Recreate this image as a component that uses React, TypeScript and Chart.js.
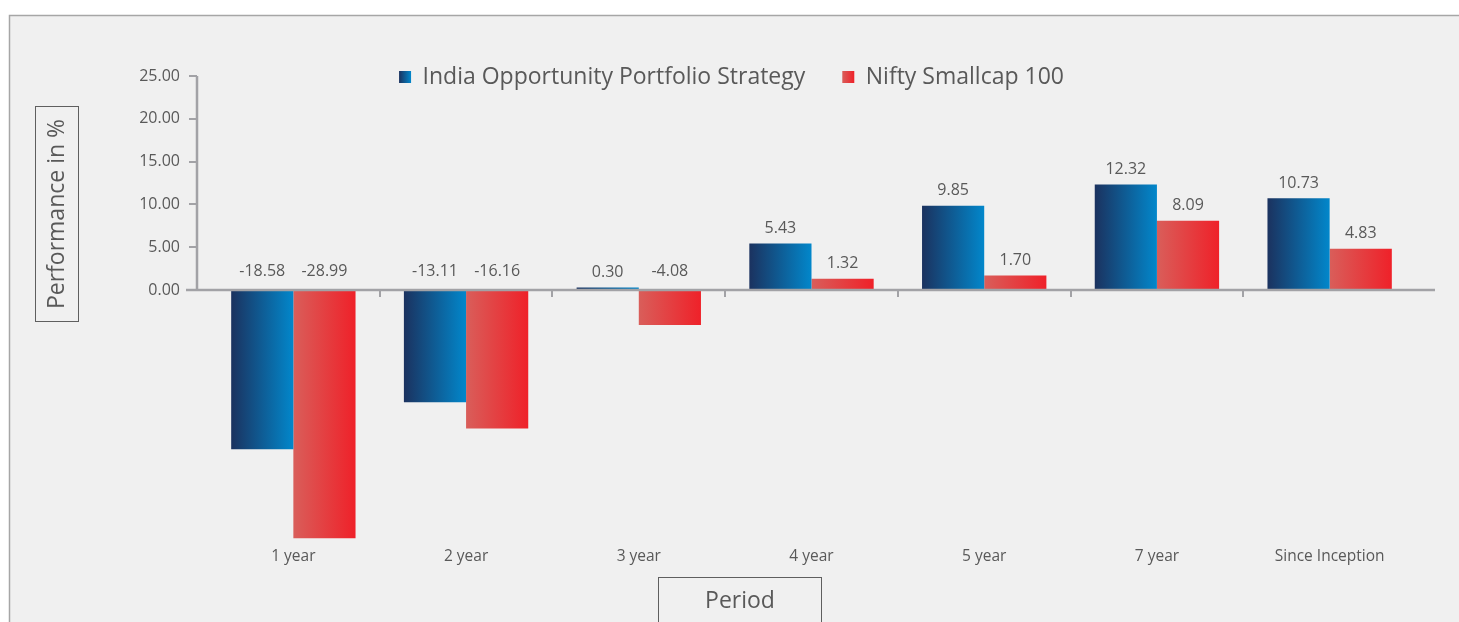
import React, { useEffect, useRef } from 'react';
import { Chart, registerables } from 'chart.js';

Chart.register(...registerables);

const CATEGORIES = ['1 year', '2 year', '3 year', '4 year', '5 year', '7 year', 'Since Inception'];
const STRATEGY = [-18.58, -13.11, 0.3, 5.43, 9.85, 12.32, 10.73];
const BENCHMARK = [-28.99, -16.16, -4.08, 1.32, 1.7, 8.09, 4.83];
const SERIES_NAMES = ['India Opportunity Portfolio Strategy', 'Nifty Smallcap 100'];
const Y_MIN = -30;
const Y_MAX = 25;
const Y_STEP = 5;
const Y_TITLE = 'Performance in %';
const X_TITLE = 'Period';

const BLUE = ['#1b325f', '#0287cb'];
const RED = ['#d95e5a', '#ef2129'];
const TEXT = '#595959';
const AXIS = '#a2a2a6';
const FONT = '"Open Sans", sans-serif';
const CAT_PCT = 0.72;
const LEG_FONT = 23;
const LEG_PAD = 37;

function barGradient(ctx: any, colors: string[]) {
  const chart = ctx.chart;
  const xs = chart.scales && chart.scales.x;
  if (!xs || !chart.chartArea || ctx.dataIndex === undefined) return colors[1];
  const n = chart.data.labels.length;
  const catW = (xs.right - xs.left) / n;
  const groupW = catW * CAT_PCT;
  const barW = groupW / chart.data.datasets.length;
  const center = xs.getPixelForValue(ctx.dataIndex);
  const left = center - groupW / 2 + ctx.datasetIndex * barW;
  const g = chart.ctx.createLinearGradient(left, 0, left + barW, 0);
  g.addColorStop(0, colors[0]);
  g.addColorStop(1, colors[1]);
  return g;
}

const decorPlugin = {
  id: 'decor',
  beforeDraw(chart: any) {
    const { ctx, width, height } = chart;
    ctx.save();
    ctx.fillStyle = '#ffffff';
    ctx.fillRect(0, 0, width, height);
    ctx.fillStyle = '#f0f0f0';
    ctx.fillRect(10, 16, width - 10, height - 16);
    ctx.strokeStyle = '#a6a6a6';
    ctx.lineWidth = 1.5;
    ctx.beginPath();
    ctx.moveTo(9.5, height);
    ctx.lineTo(9.5, 15.5);
    ctx.lineTo(width, 15.5);
    ctx.stroke();

    // axis title boxes
    ctx.strokeStyle = '#5f5f5f';
    ctx.lineWidth = 1;
    ctx.strokeRect(35.5, 106.5, 43, 215);
    ctx.strokeRect(658.5, 577.5, 163, 60);
    ctx.fillStyle = TEXT;
    ctx.font = `23px ${FONT}`;
    ctx.textAlign = 'center';
    ctx.textBaseline = 'middle';
    ctx.fillText(X_TITLE, 740, 601);
    ctx.translate(57, 214);
    ctx.rotate(-Math.PI / 2);
    ctx.fillText(Y_TITLE, 0, 0);
    ctx.restore();
  },
  afterLayout(chart: any) {
    const lg = chart.legend;
    if (lg) {
      lg.left = 4;
      lg.right = chart.width;
      lg.width = lg.right - lg.left;
      lg.top = 77 - LEG_PAD - LEG_FONT / 2;
      lg.height = 70;
      lg.bottom = lg.top + lg.height;
    }
  },
  afterUpdate(chart: any) {
    const lg = chart.legend;
    if (!lg || !lg.legendItems || !lg.legendHitBoxes) return;
    const cols = [BLUE, RED];
    lg.legendItems.forEach((it: any, i: number) => {
      const hb = lg.legendHitBoxes[i];
      if (!hb) return;
      const g = chart.ctx.createLinearGradient(hb.left, 0, hb.left + 12, 0);
      g.addColorStop(0, cols[i][0]);
      g.addColorStop(1, cols[i][1]);
      it.fillStyle = g;
    });
  },
  afterDatasetsDraw(chart: any) {
    const { ctx, chartArea } = chart;
    const xs = chart.scales.x;
    const ys = chart.scales.y;
    const zero = ys.getPixelForValue(0);
    const axisX = chartArea.left - 10;
    ctx.save();
    ctx.strokeStyle = AXIS;
    // y axis line
    ctx.lineWidth = 2.5;
    ctx.beginPath();
    ctx.moveTo(axisX, ys.getPixelForValue(Y_MAX));
    ctx.lineTo(axisX, zero);
    ctx.stroke();
    // y tick marks
    ctx.lineWidth = 2;
    for (let v = 0; v <= Y_MAX; v += Y_STEP) {
      const y = Math.round(ys.getPixelForValue(v));
      ctx.beginPath();
      ctx.moveTo(axisX - 8, y);
      ctx.lineTo(axisX, y);
      ctx.stroke();
    }
    // x axis line at zero
    ctx.lineWidth = 2.5;
    ctx.beginPath();
    ctx.moveTo(chartArea.left - 21, zero);
    ctx.lineTo(chartArea.right + 19, zero);
    ctx.stroke();
    // category boundary ticks
    ctx.lineWidth = 2;
    const n = chart.data.labels.length;
    for (let i = 0; i < n - 1; i++) {
      const x = Math.round((xs.getPixelForValue(i) + xs.getPixelForValue(i + 1)) / 2);
      ctx.beginPath();
      ctx.moveTo(x, zero);
      ctx.lineTo(x, zero + 7);
      ctx.stroke();
    }
    // data labels
    ctx.fillStyle = TEXT;
    ctx.font = `16px ${FONT}`;
    ctx.textAlign = 'center';
    ctx.textBaseline = 'middle';
    chart.data.datasets.forEach((ds: any, di: number) => {
      const meta = chart.getDatasetMeta(di);
      meta.data.forEach((el: any, i: number) => {
        const v = ds.data[i];
        const y = v >= 0 ? el.y - 15 : zero - 19;
        ctx.fillText(v.toFixed(2), el.x, y);
      });
    });
    ctx.restore();
  },
};

export default function App() {
  const ref = useRef<HTMLCanvasElement | null>(null);
  useEffect(() => {
    if (!ref.current) return;
    Chart.defaults.font.family = FONT;
    Chart.defaults.color = TEXT;
    const chart = new Chart(ref.current, {
      type: 'bar',
      data: {
        labels: CATEGORIES,
        datasets: [
          {
            label: SERIES_NAMES[0],
            data: STRATEGY,
            backgroundColor: (c: any) => barGradient(c, BLUE),
            borderWidth: 0,
            categoryPercentage: CAT_PCT,
            barPercentage: 1,
          },
          {
            label: SERIES_NAMES[1],
            data: BENCHMARK,
            backgroundColor: (c: any) => barGradient(c, RED),
            borderWidth: 0,
            categoryPercentage: CAT_PCT,
            barPercentage: 1,
          },
        ],
      },
      options: {
        responsive: false,
        animation: false,
        devicePixelRatio: 1,
        layout: { padding: { left: 107, right: 43, top: 75, bottom: 0 } },
        plugins: {
          tooltip: { enabled: false },
          legend: {
            position: 'top',
            maxHeight: 1,
            labels: {
              boxWidth: 12,
              boxHeight: 12,
              padding: LEG_PAD,
              color: TEXT,
              font: { size: LEG_FONT, family: FONT },
            },
          },
        },
        scales: {
          x: {
            grid: { display: false, drawTicks: false },
            border: { display: false },
            ticks: { color: TEXT, font: { size: 15.5, family: FONT }, padding: 0, maxRotation: 0, autoSkip: false },
            afterFit: (s: any) => {
              s.height = 75;
            },
          },
          y: {
            min: Y_MIN,
            max: Y_MAX,
            grid: { display: false, drawTicks: false },
            border: { display: false },
            ticks: {
              stepSize: Y_STEP,
              color: TEXT,
              font: { size: 16, family: FONT },
              padding: 27,
              callback: (v: any) => (Number(v) >= 0 ? Number(v).toFixed(2) : ''),
            },
            afterFit: (s: any) => {
              s.width = 100;
            },
          },
        },
      },
      plugins: [decorPlugin],
    } as any);
    return () => chart.destroy();
  }, []);
  return (
    <div style={{ position: 'absolute', left: 0, top: 0, width: 1459, height: 622 }}>
      <canvas ref={ref} width={1459} height={622} />
    </div>
  );
}
